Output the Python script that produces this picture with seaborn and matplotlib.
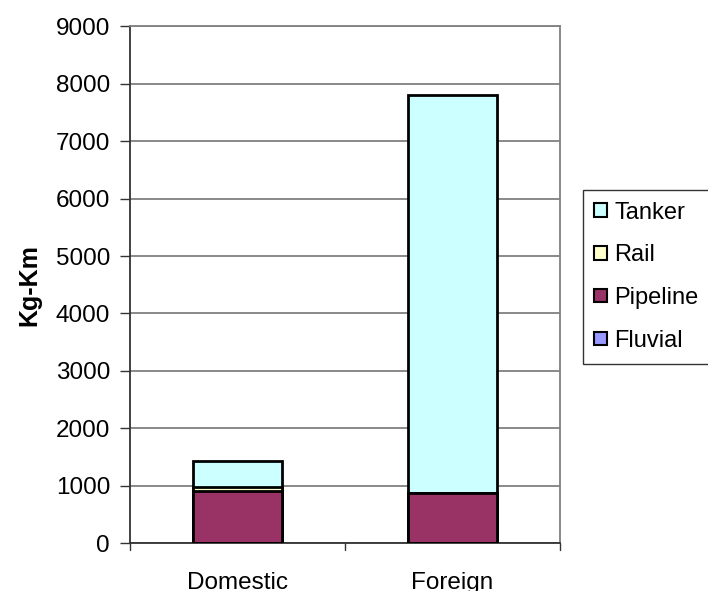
import matplotlib
matplotlib.use("Agg")
import matplotlib.pyplot as plt
import seaborn as sns
import pandas as pd
import numpy as np
from matplotlib.patches import Patch

categories = ["Domestic", "Foreign"]
fluvial = [0, 0]
pipeline = [910, 875]
rail = [65, 0]
tanker = [455, 6925]

series_names = ["Fluvial", "Pipeline", "Rail", "Tanker"]
series_vals = [fluvial, pipeline, rail, tanker]
colors = {"Fluvial": "#9999FF", "Pipeline": "#993366", "Rail": "#FFFFCC", "Tanker": "#CCFFFF"}

sns.set_theme(style="white")
plt.rcParams['font.family'] = ['Liberation Sans', 'DejaVu Sans']

fig = plt.figure(figsize=(7.08, 5.91), dpi=100)
ax = fig.add_axes([0.183, 0.0812, 0.608, 0.8740])

cum = np.cumsum(np.array(series_vals, dtype=float), axis=0)
# draw from top layer down so lower layers overlay
for i in range(len(series_names) - 1, -1, -1):
    df = pd.DataFrame({"cat": categories, "val": cum[i]})
    sns.barplot(data=df, x="cat", y="val", color=colors[series_names[i]],
                saturation=1, width=0.414, edgecolor="black", linewidth=2,
                ax=ax, zorder=3)

ax.set_ylim(0, 9000)
ax.set_xlim(-0.5, 1.5)
ax.set_yticks(range(0, 9001, 1000))
ax.yaxis.grid(True, color="#808080", linewidth=1.3, zorder=0)
ax.set_axisbelow(True)
ax.set_xlabel("")
ax.set_ylabel("Kg-Km", fontsize=18, fontweight="bold", labelpad=10, color="black")
ax.tick_params(axis="y", labelsize=17.5, direction="out", length=7, width=1, color="#333333",
               left=True, pad=7, labelcolor="black")
ax.set_xticks([0, 1])
ax.set_xticklabels(categories, fontsize=17.5, color="black")
ax.tick_params(axis="x", length=0, pad=21)
# boundary ticks on x
for xb in [-0.5, 0.5, 1.5]:
    ax.plot([xb, xb], [0, -0.013], transform=ax.get_xaxis_transform(), color="#333333",
            linewidth=1, clip_on=False)
for s in ["left", "bottom"]:
    ax.spines[s].set_color("#333333")
    ax.spines[s].set_linewidth(1.3)
for s in ["top", "right"]:
    ax.spines[s].set_color("#808080")
    ax.spines[s].set_linewidth(1.3)

handles = [Patch(facecolor=colors[n], edgecolor="black", linewidth=1.5, label=n)
           for n in ["Tanker", "Rail", "Pipeline", "Fluvial"]]
leg = fig.legend(handles=handles, loc="upper left", bbox_to_anchor=(0.823, 0.679),
                 fontsize=17, frameon=True, fancybox=False, handlelength=0.55,
                 handleheight=0.5, handletextpad=0.3, labelspacing=0.88,
                 borderpad=0.5, borderaxespad=0)
leg.get_frame().set_edgecolor("black")
leg.get_frame().set_linewidth(1.0)
for t in leg.get_texts():
    t.set_color("black")

fig.savefig("out.png", dpi=100, facecolor="white")
